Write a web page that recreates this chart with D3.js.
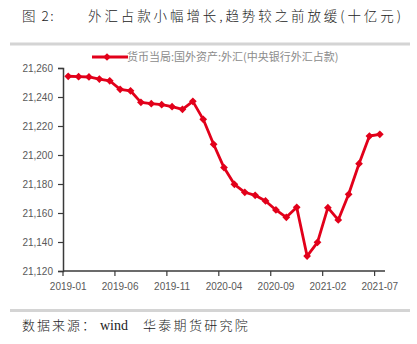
<!DOCTYPE html>
<html>
<head>
<meta charset="utf-8">
<script src="https://cdn.jsdelivr.net/npm/d3@7/dist/d3.min.js"></script>
<style>
  html, body { margin: 0; padding: 0; background: #fff; }
  svg { display: block; }
</style>
</head>
<body>
<svg id="chart" width="417" height="344"></svg>
<script>
// Monthly foreign-exchange holdings of the central bank (billion yuan)
const months = [
  "2019-01","2019-02","2019-03","2019-04","2019-05","2019-06","2019-07","2019-08",
  "2019-09","2019-10","2019-11","2019-12","2020-01","2020-02","2020-03","2020-04",
  "2020-05","2020-06","2020-07","2020-08","2020-09","2020-10","2020-11","2020-12",
  "2021-01","2021-02","2021-03","2021-04","2021-05","2021-06","2021-07"
];
const fxReserves = [
  21254.3, 21254.0, 21253.8, 21252.4, 21251.2, 21245.3, 21244.3, 21236.3,
  21235.4, 21234.7, 21233.3, 21231.5, 21237.0, 21224.6, 21207.4, 21191.3,
  21179.8, 21174.3, 21172.2, 21168.3, 21162.1, 21157.0, 21163.9, 21130.3,
  21139.8, 21163.7, 21155.2, 21172.9, 21194.0, 21213.1, 21214.3
];
const yTicks = [21120, 21140, 21160, 21180, 21200, 21220, 21240, 21260];
const xTickLabels = ["2019-01","2019-06","2019-11","2020-04","2020-09","2021-02","2021-07"];

const titleLabel = "图 2:";
const titleText = "外汇占款小幅增长,趋势较之前放缓(十亿元)";
const seriesName = "货币当局:国外资产:外汇(中央银行外汇占款)";
const sourcePrefix = "数据来源：";
const sourceVendor = "wind";
const sourceOrg = "华泰期货研究院";

const svg = d3.select("#chart");
const red = "#e2001a";
const axisColor = "#3a3a3a";
const labelColor = "#595959";
const cjk = "Noto Sans CJK SC";

const plot = { left: 63, right: 385, top: 68, bottom: 271 };

const x = d3.scaleBand().domain(months).range([plot.left, plot.right]).padding(0);
const y = d3.scaleLinear().domain([21120, 21260]).range([plot.bottom, plot.top]);

// Title
svg.append("text").attr("x", 22).attr("y", 21)
  .attr("font-family", cjk).attr("font-size", 13.5).attr("font-weight", 300)
  .attr("letter-spacing", 1.5).attr("xml:space", "preserve")
  .attr("fill", "#222").text(titleLabel);
svg.append("text").attr("x", 88).attr("y", 21)
  .attr("font-family", cjk).attr("font-size", 13.5).attr("font-weight", 300)
  .attr("letter-spacing", 2.9)
  .attr("fill", "#222").text(titleText);

// Separator rules
svg.append("rect").attr("x", 10).attr("y", 42.5).attr("width", 400).attr("height", 3).attr("fill", "#d4d4d4");
svg.append("rect").attr("x", 10).attr("y", 309).attr("width", 400).attr("height", 3).attr("fill", "#d4d4d4");

// Source note
const src = svg.append("text").attr("x", 22).attr("y", 330)
  .attr("font-size", 13).attr("font-weight", 300).attr("fill", "#222");
src.append("tspan").attr("font-family", cjk).attr("letter-spacing", 2).text(sourcePrefix);
src.append("tspan").attr("x", 100).attr("font-family", "Liberation Serif, serif")
  .attr("font-size", 14).attr("font-weight", 400).text(sourceVendor);
src.append("tspan").attr("x", 143).attr("font-family", cjk).attr("letter-spacing", 2.3).text(sourceOrg);

// Y axis
const yAxis = d3.axisLeft(y).tickValues(yTicks).tickSize(5).tickPadding(5)
  .tickFormat(d3.format(","));
const gy = svg.append("g").attr("transform", `translate(${plot.left},0)`).call(yAxis);
gy.select(".domain").attr("stroke", axisColor).attr("stroke-width", 1.5);
gy.selectAll(".tick line").attr("stroke", axisColor).attr("stroke-width", 1.2);
gy.selectAll(".tick text").attr("fill", labelColor)
  .attr("font-family", "Liberation Sans, Arial, sans-serif").attr("font-size", 10);

// X axis: ticks on category boundaries, labels at category centres
const gx = svg.append("g").attr("transform", `translate(0,${plot.bottom})`);
gx.append("line").attr("x1", plot.left).attr("x2", plot.right)
  .attr("stroke", axisColor).attr("stroke-width", 1.5);
gx.selectAll(".xtick").data(xTickLabels).enter().append("line")
  .attr("x1", d => x(d)).attr("x2", d => x(d)).attr("y1", 0).attr("y2", 5)
  .attr("stroke", axisColor).attr("stroke-width", 1.2);
gx.selectAll(".xlabel").data(xTickLabels).enter().append("text")
  .attr("x", d => x(d) + x.bandwidth() / 2).attr("y", 19)
  .attr("text-anchor", "middle").attr("fill", labelColor)
  .attr("font-family", "Liberation Sans, Arial, sans-serif").attr("font-size", 10)
  .text(d => d);

// Series line
const pts = months.map((m, i) => ({ m, v: fxReserves[i] }));
const line = d3.line().x(d => x(d.m) + x.bandwidth() / 2).y(d => y(d.v));
svg.append("path").datum(pts).attr("d", line)
  .attr("fill", "none").attr("stroke", red).attr("stroke-width", 2.8)
  .attr("stroke-linejoin", "round");

const diamond = d3.symbol().type(d3.symbolSquare).size(30);
svg.selectAll(".pt").data(pts).enter().append("path")
  .attr("d", diamond)
  .attr("transform", d => `translate(${x(d.m) + x.bandwidth() / 2},${y(d.v)}) rotate(45)`)
  .attr("fill", red);

// Legend
const lg = svg.append("g");
lg.append("line").attr("x1", 92).attr("x2", 128).attr("y1", 57).attr("y2", 57)
  .attr("stroke", red).attr("stroke-width", 2.8);
lg.append("path").attr("d", diamond).attr("transform", "translate(107,57) rotate(45)").attr("fill", red);
lg.append("text").attr("x", 127).attr("y", 61)
  .attr("font-family", cjk).attr("font-size", 11)
  .attr("fill", "#8c8c8c").text(seriesName);
</script>
</body>
</html>
